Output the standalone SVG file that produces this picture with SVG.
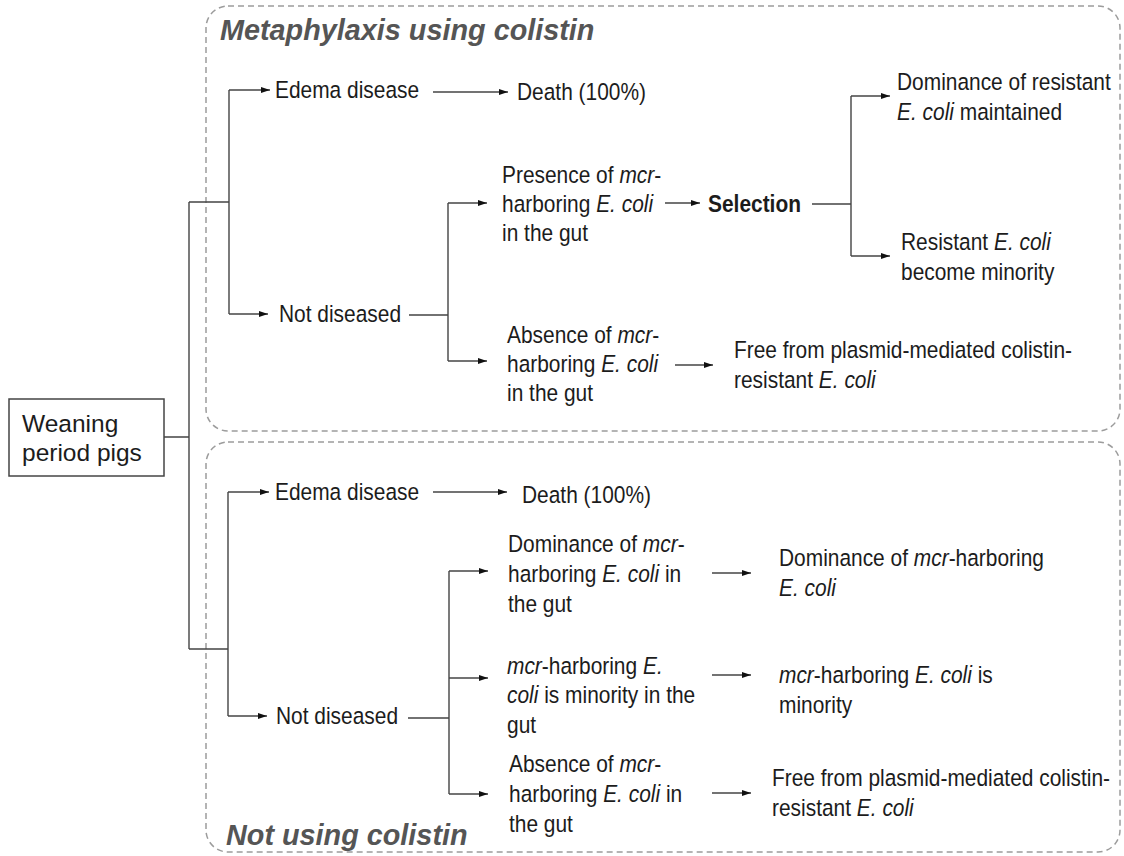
<svg xmlns="http://www.w3.org/2000/svg" width="1124" height="856" viewBox="0 0 1124 856">
<style>
.t{font-family:"Liberation Sans",Arial,sans-serif;font-size:23.5px;fill:#1c1c1c}
.w{font-family:"Liberation Sans",Arial,sans-serif;font-size:24.5px;fill:#1c1c1c}
.i{font-style:italic}
.b{font-weight:bold}
.title{font-family:"Liberation Sans",Arial,sans-serif;font-size:28.8px;font-weight:bold;font-style:italic;fill:#555}
.ln{fill:none;stroke:#444;stroke-width:1.4}
.ar{fill:none;stroke:#444;stroke-width:1.4;marker-end:url(#ah)}
.box{fill:none;stroke:#9c9c9c;stroke-width:1.5;stroke-dasharray:6 4}
.nb{fill:#fff;stroke:#444;stroke-width:1.5}
</style>
<defs>
<marker id="ah" markerUnits="userSpaceOnUse" markerWidth="9" markerHeight="7" refX="9" refY="3.5" orient="auto">
<path d="M0,0.5 L9,3.5 L0,6.5 z" fill="#111"/>
</marker>
</defs>
<rect width="1124" height="856" fill="#fff"/>

<g id="group-colistin">
<rect class="box" x="206" y="6" width="914" height="425" rx="22"/>
<text class="title" x="220" y="40">Metaphylaxis using colistin</text>
</g>
<g id="group-no-colistin">
<rect class="box" x="206" y="442" width="914" height="410" rx="22"/>
<text class="title" x="226" y="845">Not using colistin</text>
</g>

<g id="connectors">
<path class="ln" d="M164,437 H189 M189,202 V649 M189,202 H229 M189,649 H228"/>
<path class="ln" d="M229,90 V314"/>
<path class="ar" d="M229,90 H270"/>
<path class="ar" d="M229,314 H268"/>
<path class="ar" d="M433,92 H508"/>
<path class="ln" d="M409,315 H448 M448,203 V361"/>
<path class="ar" d="M448,203 H487"/>
<path class="ar" d="M448,361 H487"/>
<path class="ar" d="M665,203 H700"/>
<path class="ln" d="M812,204 H851 M851,96 V256"/>
<path class="ar" d="M851,96 H890"/>
<path class="ar" d="M851,256 H890"/>
<path class="ar" d="M675,365 H713"/>
<path class="ln" d="M228,492 V716"/>
<path class="ar" d="M228,492 H269"/>
<path class="ar" d="M228,716 H267"/>
<path class="ar" d="M433,492 H507"/>
<path class="ln" d="M408,718 H449 M449,571 V794"/>
<path class="ar" d="M449,571 H488"/>
<path class="ar" d="M449,678 H488"/>
<path class="ar" d="M449,794 H488"/>
<path class="ar" d="M712,573 H751"/>
<path class="ar" d="M712,675 H751"/>
<path class="ar" d="M712,793 H751"/>
</g>

<g id="n-weaning">
<rect class="nb" x="9" y="399" width="155" height="77"/>
<text class="w" x="22" y="432">Weaning</text>
<text class="w" x="22" y="461">period pigs</text>
</g>

<g id="n-edema1"><text class="t" transform="translate(275,98) scale(0.89,1)">Edema disease</text></g>
<g id="n-death1"><text class="t" transform="translate(517,100) scale(0.89,1)">Death (100%)</text></g>
<g id="n-notdis1"><text class="t" transform="translate(279,322) scale(0.89,1)">Not diseased</text></g>
<g id="n-presence"><text class="t" transform="translate(502,183) scale(0.89,1)"><tspan x="0">Presence of <tspan class="i">mcr</tspan>-</tspan><tspan x="0" dy="29">harboring <tspan class="i">E. coli</tspan></tspan><tspan x="0" dy="29">in the gut</tspan></text></g>
<g id="n-selection"><text class="t b" transform="translate(708,212) scale(0.89,1)">Selection</text></g>
<g id="n-dom-res"><text class="t" transform="translate(897,90) scale(0.89,1)"><tspan x="0">Dominance of resistant</tspan><tspan x="0" dy="30"><tspan class="i">E. coli</tspan> maintained</tspan></text></g>
<g id="n-res-min"><text class="t" transform="translate(901,250) scale(0.89,1)"><tspan x="0">Resistant <tspan class="i">E. coli</tspan></tspan><tspan x="0" dy="30">become minority</tspan></text></g>
<g id="n-absence1"><text class="t" transform="translate(507,343) scale(0.89,1)"><tspan x="0">Absence of <tspan class="i">mcr</tspan>-</tspan><tspan x="0" dy="29">harboring <tspan class="i">E. coli</tspan></tspan><tspan x="0" dy="29">in the gut</tspan></text></g>
<g id="n-free1"><text class="t" transform="translate(734,358) scale(0.89,1)"><tspan x="0">Free from plasmid-mediated colistin-</tspan><tspan x="0" dy="30">resistant <tspan class="i">E. coli</tspan></tspan></text></g>

<g id="n-edema2"><text class="t" transform="translate(275,500) scale(0.89,1)">Edema disease</text></g>
<g id="n-death2"><text class="t" transform="translate(522,503) scale(0.89,1)">Death (100%)</text></g>
<g id="n-notdis2"><text class="t" transform="translate(276,724) scale(0.89,1)">Not diseased</text></g>
<g id="n-dom-mcr"><text class="t" transform="translate(508,552) scale(0.89,1)"><tspan x="0">Dominance of <tspan class="i">mcr</tspan>-</tspan><tspan x="0" dy="30">harboring <tspan class="i">E. coli</tspan> in</tspan><tspan x="0" dy="30">the gut</tspan></text></g>
<g id="n-mcr-min"><text class="t" transform="translate(507,674) scale(0.89,1)"><tspan x="0"><tspan class="i">mcr</tspan>-harboring <tspan class="i">E.</tspan></tspan><tspan x="0" dy="29.5"><tspan class="i">coli</tspan> is minority in the</tspan><tspan x="0" dy="29.5">gut</tspan></text></g>
<g id="n-absence2"><text class="t" transform="translate(509,772) scale(0.89,1)"><tspan x="0">Absence of <tspan class="i">mcr</tspan>-</tspan><tspan x="0" dy="30">harboring <tspan class="i">E. coli</tspan> in</tspan><tspan x="0" dy="30">the gut</tspan></text></g>
<g id="n-dom-mcr-out"><text class="t" transform="translate(779,566) scale(0.89,1)"><tspan x="0">Dominance of <tspan class="i">mcr</tspan>-harboring</tspan><tspan x="0" dy="30" class="i">E. coli</tspan></text></g>
<g id="n-mcr-min-out"><text class="t" transform="translate(779,683) scale(0.89,1)"><tspan x="0"><tspan class="i">mcr</tspan>-harboring <tspan class="i">E. coli</tspan> is</tspan><tspan x="0" dy="30">minority</tspan></text></g>
<g id="n-free2"><text class="t" transform="translate(772,786) scale(0.89,1)"><tspan x="0">Free from plasmid-mediated colistin-</tspan><tspan x="0" dy="30">resistant <tspan class="i">E. coli</tspan></tspan></text></g>
</svg>
